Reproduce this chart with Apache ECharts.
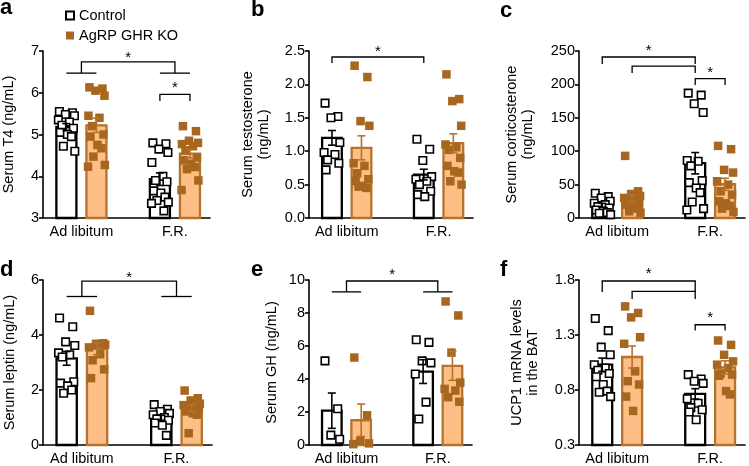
<!DOCTYPE html>
<html><head><meta charset="utf-8">
<script src="https://cdn.jsdelivr.net/npm/echarts@6/dist/echarts.min.js"></script>
<style>html,body{margin:0;padding:0;background:#fff}#c{width:749px;height:466px}</style>
</head><body><div id="c"></div><script>
// ---------- data ----------
const categories = ['Ad libitum', 'F.R.'];
const groups = ['Control', 'AgRP GHR KO'];

// a: Serum T4 (ng/mL)
const t4CtrlAdLib = [5.55, 5.52, 5.48, 5.45, 5.35, 5.3, 5.22, 5.15, 5.05, 5.0, 4.95, 4.72, 4.6];
const t4KoAdLib   = [6.13, 6.1, 6.05, 5.93, 5.45, 5.4, 5.2, 5.0, 4.95, 4.75, 4.67, 4.47, 4.27, 4.23];
const t4CtrlFR    = [4.8, 4.78, 4.65, 4.57, 4.33, 4.0, 3.9, 3.87, 3.65, 3.6, 3.5, 3.42, 3.38, 3.35, 3.17];
const t4KoFR      = [5.2, 5.08, 4.85, 4.8, 4.77, 4.72, 4.62, 4.45, 4.38, 4.3, 4.22, 4.17, 3.9, 3.67];
const t4Mean = [5.18, 5.22, 3.93, 4.54];
const t4Sem  = [0.08, 0.17, 0.15, 0.10];
const t4Ticks = [3, 4, 5, 6, 7];

// b: Serum testosterone (ng/mL)
const tesCtrlAdLib = [1.72, 1.52, 1.5, 1.13, 0.98, 0.95, 0.87, 0.82, 0.72];
const tesKoAdLib   = [2.28, 2.11, 1.45, 1.38, 0.82, 0.78, 0.67, 0.58, 0.55, 0.48, 0.45, 0.47];
const tesCtrlFR    = [1.18, 1.03, 0.86, 0.62, 0.58, 0.55, 0.5, 0.4, 0.35, 0.32];
const tesKoFR      = [2.15, 1.78, 1.75, 1.38, 1.1, 1.06, 1.02, 0.9, 0.78, 0.7, 0.68, 0.55, 0.5];
const tesMean = [1.2, 1.05, 0.65, 1.12];
const tesSem  = [0.11, 0.18, 0.08, 0.14];
const tesTicks = [0, 0.5, 1.0, 1.5, 2.0, 2.5];

// c: Serum corticosterone (ng/mL)
const corCtrlAdLib = [37, 32, 30, 25, 22, 20, 17, 15, 12, 10, 8, 7, 5];
const corKoAdLib   = [93, 40, 36, 33, 30, 28, 25, 22, 20, 17, 14, 10, 8];
const corCtrlFR    = [187, 184, 171, 158, 86, 85, 78, 56, 53, 45, 38, 24, 14, 12];
const corKoFR      = [108, 103, 72, 68, 55, 50, 40, 35, 25, 22, 18, 14, 9];
const corMean = [19, 29.5, 82, 50.5];
const corSem  = [3, 5, 16, 9];
const corTicks = [0, 50, 100, 150, 200, 250];

// d: Serum leptin (ng/mL)
const lepCtrlAdLib = [4.62, 4.3, 3.75, 3.62, 3.35, 3.28, 3.2, 2.3, 2.25, 2.15, 2.0, 1.88];
const lepKoAdLib   = [4.88, 3.7, 3.68, 3.65, 3.55, 3.3, 3.08, 2.75, 2.43];
const lepCtrlFR    = [1.47, 1.3, 1.22, 1.15, 1.1, 1.0, 0.95, 0.9, 0.8, 0.72, 0.35];
const lepKoFR      = [1.98, 1.7, 1.62, 1.5, 1.45, 1.4, 1.35, 1.3, 1.22, 1.15, 1.1, 0.43];
const lepMean = [3.15, 3.5, 0.99, 1.34];
const lepSem  = [0.25, 0.22, 0.09, 0.12];
const lepTicks = [0, 2, 4, 6];

// e: Serum GH (ng/mL)
const ghCtrlAdLib = [5.1, 2.2, 0.6, 0.35];
const ghKoAdLib   = [5.3, 1.8, 0.25, 0.1, 0.05];
const ghCtrlFR    = [6.38, 6.22, 5.1, 4.98, 4.3, 2.6, 1.58];
const ghKoFR      = [8.7, 7.85, 5.6, 3.78, 3.4, 3.3, 2.9, 2.62];
const ghMean = [2.08, 1.5, 4.45, 4.8];
const ghSem  = [1.07, 0.98, 0.72, 0.88];
const ghTicks = [0, 2, 4, 6, 8, 10];

// f: UCP1 mRNA levels in the BAT
const ucpCtrlAdLib = [1.45, 1.34, 1.19, 1.12, 1.03, 1.0, 0.98, 0.95, 0.92, 0.85, 0.79, 0.78, 0.74];
const ucpKoAdLib   = [1.56, 1.5, 1.46, 1.28, 1.22, 0.97, 0.88, 0.85, 0.74, 0.61];
const ucpCtrlFR    = [0.94, 0.9, 0.88, 0.86, 0.72, 0.68, 0.64, 0.62, 0.6, 0.53];
const ucpKoFR      = [1.25, 1.21, 1.12, 1.06, 1.03, 1.0, 0.95, 0.94, 0.93, 0.79, 0.76];
const ucpMean = [1.03, 1.1, 0.765, 1.005];
const ucpSem  = [0.06, 0.1, 0.047, 0.06];
const ucpTicks = [0.3, 0.8, 1.3, 1.8];

// ---------- layout / style ----------
const FONT = '"Liberation Sans", Arial, Helvetica, sans-serif';
const FS = 14.5;
const KO_FILL = '#FDBF86', KO_STROKE = '#B5732E', KO_DOT = '#A8671F';
const BW = 1.2;                       // bar width (x units, axis 0..10)
const XPOS = [1.4, 3.2, 7.0, 8.8];    // ctrl-adlib, ko-adlib, ctrl-FR, ko-FR
const LABEL_X = [2.3, 7.9];
const JIT = [-0.35, 0.3, -0.05, 0.4, -0.4, 0.15, -0.22, 0.35, -0.3, 0.05, 0.25, -0.15, 0.42, -0.42, 0.2, -0.25];
function xAt(i) { const f = Math.floor(i), c = Math.ceil(i); return XPOS[f] + (XPOS[c] - XPOS[f]) * (i - f); }

const panels = [
  { letter: 'a', lx: 0, ly: 8, grid: { left: 43, top: 51, width: 167, height: 167 }, ticks: t4Ticks, dec: 0,
    name: 'Serum T4 (ng/mL)', nameGap: 26,
    pts: [t4CtrlAdLib, t4KoAdLib, t4CtrlFR, t4KoFR], mean: t4Mean, sem: t4Sem,
    ann: [ { k: 'line', a: 0, b: 1, y: 6.47 }, { k: 'line', a: 2, b: 3, y: 6.47 },
           { k: 'br', a: 0.5, b: 2.5, top: 6.74, l1: 6.47, l2: 6.47 }, { k: 'star', a: 0.5, b: 2.5, y: 6.9 },
           { k: 'br', a: 2, b: 3, top: 5.96, l1: 5.80, l2: 5.80 }, { k: 'star', a: 2, b: 3, y: 6.19 } ] },
  { letter: 'b', lx: 251, ly: 10, grid: { left: 309, top: 51, width: 164, height: 167 }, ticks: tesTicks, dec: 1,
    name: 'Serum testosterone\n(ng/mL)', nameGap: 37,
    pts: [tesCtrlAdLib, tesKoAdLib, tesCtrlFR, tesKoFR], mean: tesMean, sem: tesSem,
    ann: [ { k: 'br', a: 0, b: 2, top: 2.41, l1: 2.32, l2: 2.32 }, { k: 'star', a: 0, b: 2, y: 2.53 } ] },
  { letter: 'c', lx: 500, ly: 11, grid: { left: 579, top: 51, width: 166, height: 167 }, ticks: corTicks, dec: 0,
    name: 'Serum corticosterone\n(ng/mL)', nameGap: 43,
    pts: [corCtrlAdLib, corKoAdLib, corCtrlFR, corKoFR], mean: corMean, sem: corSem,
    ann: [ { k: 'br', a: 0, b: 2, top: 241, l1: 230.5, l2: 230.5 }, { k: 'star', a: 0, b: 2, y: 254.5 },
           { k: 'br', a: 1, b: 2, top: 227.5, l1: 217, l2: 217 },
           { k: 'br', a: 2, b: 3, top: 208.5, l1: 199, l2: 199 }, { k: 'star', a: 2, b: 3, y: 221.6 } ] },
  { letter: 'd', lx: 0, ly: 270, grid: { left: 43, top: 280, width: 169, height: 167 }, ticks: lepTicks, dec: 0,
    name: 'Serum leptin (ng/mL)', nameGap: 25,
    pts: [lepCtrlAdLib, lepKoAdLib, lepCtrlFR, lepKoFR], mean: lepMean, sem: lepSem,
    ann: [ { k: 'line', a: 0, b: 1, y: 5.40 }, { k: 'line', a: 2, b: 3, y: 5.40 },
           { k: 'br', a: 0.5, b: 2.5, top: 5.96, l1: 5.40, l2: 5.40 }, { k: 'star', a: 0.5, b: 2.5, y: 6.18 } ] },
  { letter: 'e', lx: 251, ly: 270, grid: { left: 309, top: 280, width: 163, height: 167 }, ticks: ghTicks, dec: 0,
    name: 'Serum GH (ng/mL)', nameGap: 29,
    pts: [ghCtrlAdLib, ghKoAdLib, ghCtrlFR, ghKoFR], mean: ghMean, sem: ghSem,
    ann: [ { k: 'line', a: 0, b: 1, y: 9.28 }, { k: 'line', a: 2, b: 3, y: 9.28 },
           { k: 'br', a: 0.5, b: 2.5, top: 9.94, l1: 9.28, l2: 9.28 }, { k: 'star', a: 0.5, b: 2.5, y: 10.5 } ] },
  { letter: 'f', lx: 500, ly: 270, grid: { left: 579, top: 280, width: 166, height: 167 }, ticks: ucpTicks, dec: 1,
    name: 'UCP1 mRNA levels\nin the BAT', nameGap: 38,
    pts: [ucpCtrlAdLib, ucpKoAdLib, ucpCtrlFR, ucpKoFR], mean: ucpMean, sem: ucpSem,
    ann: [ { k: 'br', a: 0, b: 2, top: 1.791, l1: 1.69, l2: 1.69 }, { k: 'star', a: 0, b: 2, y: 1.88 },
           { k: 'br', a: 1, b: 2, top: 1.696, l1: 1.627, l2: 1.627 },
           { k: 'br', a: 2, b: 3, top: 1.393, l1: 1.342, l2: 1.342 }, { k: 'star', a: 2, b: 3, y: 1.483 } ] }
];

const option = { animation: false, grid: [], xAxis: [], yAxis: [], series: [], graphic: [] };

panels.forEach((p, pi) => {
  const ymin = p.ticks[0], ymax = p.ticks[p.ticks.length - 1];
  option.grid.push(Object.assign({ containLabel: false }, p.grid));
  option.xAxis.push({
    gridIndex: pi, type: 'value', min: 0, max: 10,
    axisLine: { show: true, onZero: false, lineStyle: { color: '#000', width: 1.6 } },
    axisTick: { show: false }, splitLine: { show: false },
    axisLabel: { show: true, customValues: LABEL_X, margin: 6, fontSize: FS, fontFamily: FONT, color: '#000',
      formatter: v => categories[v < 5 ? 0 : 1] }
  });
  option.yAxis.push({
    gridIndex: pi, type: 'value', min: ymin, max: ymax,
    name: p.name, nameLocation: 'middle', nameGap: p.nameGap,
    nameTextStyle: { fontSize: FS, fontFamily: FONT, color: '#000', lineHeight: 16 },
    axisLine: { show: true, onZero: false, lineStyle: { color: '#000', width: 1.6 } },
    axisTick: { show: true, length: 4, customValues: p.ticks, lineStyle: { color: '#000', width: 1.6 } },
    splitLine: { show: false },
    axisLabel: { show: true, customValues: p.ticks, margin: 4, fontSize: FS, fontFamily: FONT, color: '#000',
      formatter: v => v.toFixed(p.dec) }
  });

  // bars
  option.series.push({
    type: 'custom', xAxisIndex: pi, yAxisIndex: pi, z: 2, silent: true, clip: false,
    data: p.mean.map((m, i) => [XPOS[i], m, i % 2]),
    renderItem: (params, api) => {
      const x = api.value(0), m = api.value(1), g = api.value(2);
      const tl = api.coord([x - BW / 2, m]), br = api.coord([x + BW / 2, ymin]);
      return { type: 'rect', shape: { x: tl[0], y: tl[1], width: br[0] - tl[0], height: br[1] - tl[1] },
        style: { fill: g ? KO_FILL : '#fff', stroke: g ? KO_STROKE : '#000', lineWidth: 2.3 } };
    }
  });

  // points
  [0, 1].forEach(g => {
    const data = [];
    [0, 1].forEach(c => {
      const idx = c * 2 + g;
      p.pts[idx].forEach((v, i) => data.push([XPOS[idx] + JIT[i % JIT.length] * BW, v]));
    });
    option.series.push({
      type: 'scatter', name: groups[g], xAxisIndex: pi, yAxisIndex: pi, z: 3, silent: true,
      symbol: 'rect', symbolSize: g ? 8.5 : 7.5, data,
      itemStyle: g ? { color: KO_DOT, borderWidth: 0, opacity: 1 } : { color: '#fff', borderColor: '#000', borderWidth: 1.6, opacity: 1 }
    });
  });

  // error bars (mean ± SEM)
  option.series.push({
    type: 'custom', xAxisIndex: pi, yAxisIndex: pi, z: 4, silent: true, clip: false,
    data: p.mean.map((m, i) => [XPOS[i], m, p.sem[i], i % 2]),
    renderItem: (params, api) => {
      const x = api.value(0), m = api.value(1), s = api.value(2), g = api.value(3);
      const hi = api.coord([x, m + s]), lo = api.coord([x, m - s]);
      const col = g ? KO_STROKE : '#000', cw = 4;
      const st = { stroke: col, lineWidth: 1.6 };
      return { type: 'group', children: [
        { type: 'line', shape: { x1: hi[0], y1: hi[1], x2: lo[0], y2: lo[1] }, style: st },
        { type: 'line', shape: { x1: hi[0] - cw, y1: hi[1], x2: hi[0] + cw, y2: hi[1] }, style: st },
        { type: 'line', shape: { x1: lo[0] - cw, y1: lo[1], x2: lo[0] + cw, y2: lo[1] }, style: st }
      ] };
    }
  });

  // significance annotations
  option.series.push({
    type: 'custom', xAxisIndex: pi, yAxisIndex: pi, z: 5, silent: true, clip: false,
    data: [[0, ymin]],
    renderItem: (params, api) => {
      const children = [];
      const st = { stroke: '#000', lineWidth: 1.3, fill: null };
      p.ann.forEach(an => {
        if (an.k === 'line') {
          const a = api.coord([xAt(an.a), an.y]), b = api.coord([xAt(an.b), an.y]);
          children.push({ type: 'line', shape: { x1: a[0], y1: a[1], x2: b[0], y2: b[1] }, style: st });
        } else if (an.k === 'br') {
          const pts = [api.coord([xAt(an.a), an.l1]), api.coord([xAt(an.a), an.top]),
                       api.coord([xAt(an.b), an.top]), api.coord([xAt(an.b), an.l2])];
          children.push({ type: 'polyline', shape: { points: pts }, style: st });
        } else {
          const c = api.coord([(xAt(an.a) + xAt(an.b)) / 2, an.y]);
          children.push({ type: 'text', x: c[0], y: c[1] + 3,
            style: { text: '*', font: '15px ' + FONT, fill: '#000', align: 'center', verticalAlign: 'middle' } });
        }
      });
      return { type: 'group', children };
    }
  });

  option.graphic.push({ type: 'text', x: p.lx, y: p.ly, silent: true,
    style: { text: p.letter, font: 'bold 22px ' + FONT, fill: '#000', align: 'left', verticalAlign: 'middle' } });
});

option.legend = {
  data: [{ name: 'Control', icon: 'rect' }, { name: 'AgRP GHR KO', icon: 'rect' }],
  orient: 'vertical', left: 60, top: 3, itemWidth: 8, itemHeight: 8, itemGap: 5,
  selectedMode: false,
  textStyle: { fontSize: FS, fontFamily: FONT, color: '#000', lineHeight: 14 }
};

const chart = echarts.init(document.getElementById('c'), null, { renderer: 'canvas' });
chart.setOption(option);
</script></body></html>
